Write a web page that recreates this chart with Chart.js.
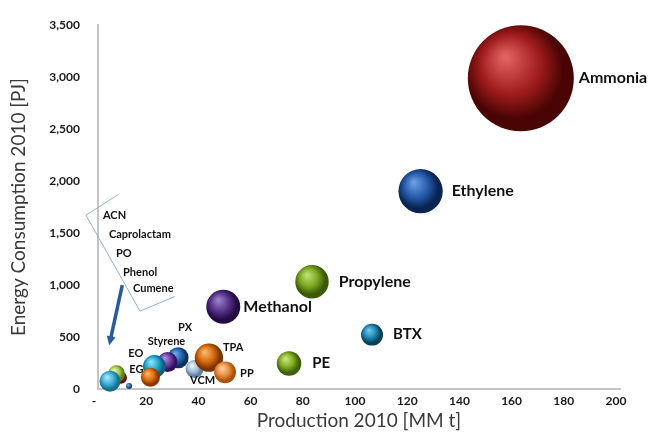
<!DOCTYPE html>
<html><head><meta charset="utf-8">
<script src="https://cdn.jsdelivr.net/npm/chart.js@4.4.1/dist/chart.umd.min.js"></script>
<style>html,body{margin:0;padding:0;background:#fff;}#wrap{width:654px;height:432px;position:relative;}</style>
</head><body><div id="wrap"><canvas id="c"></canvas></div>
<script>
// ---- data ----
const products   = ['Ammonia','Ethylene','Propylene','Methanol','BTX','PE','VCM','TPA','PP','PX','Styrene','EO','EG','Caprolactam','Phenol','Cumene','ACN'];
const production = [162, 123.6, 82, 48, 105, 73.2, 37, 42.5, 48.7, 30.7, 26.6, 21.6, 20.1, 8.8, 7.1, 4.6, 11.9];   // MM t
const energy     = [2990, 1903, 1032, 791, 523, 245, 193, 301, 160, 301, 259, 217, 113, 108, 146, 75, 28];         // PJ
const bubbleSize = [281, 49, 28, 29, 12, 15, 8, 20, 12, 11, 10, 13, 9, 3.6, 7.2, 11, 0.9];                          // relative size
const xTicks = [0, 20, 40, 60, 80, 100, 120, 140, 160, 180, 200];
const yTicks = [0, 500, 1000, 1500, 2000, 2500, 3000, 3500];
const groupedNames = ['ACN','Caprolactam','PO','Phenol','Cumene'];

// ---- styles ----
const palette = { // [highlight, base, rim]
  Ammonia:['#e06060','#a01c1c','#4a0404'], Ethylene:['#6a9ee0','#2358a8','#0a2350'],
  Propylene:['#bfe070','#7aa420','#3a5806'], Methanol:['#9a80c8','#553088','#220c40'],
  BTX:['#70c8e8','#1f88b0','#08405a'], PE:['#c8e878','#80ac26','#3e6008'],
  VCM:['#f0f6fc','#a8c0dc','#6080a8'], TPA:['#f8b870','#d86a10','#7a3400'],
  PP:['#fcd0a8','#ec8e40','#a85410'], PX:['#70a8e8','#2468b0','#0a3060'],
  Styrene:['#b090e0','#6c40a0','#301060'], EO:['#90e4f8','#28a8d0','#0a6080'],
  EG:['#f8b868','#e07010','#8a3800'], Caprolactam:['#e07070','#a82a2a','#581010'],
  Phenol:['#e0f8a8','#a0c848','#5a8010'], Cumene:['#a8e8fa','#40b0d8','#157090'],
  ACN:['#80a8e0','#3a6ab0','#1a3a70']
};
const bigLabels = { // label placed to the right of bubble
  Ammonia:{dx:5,dy:0,size:16}, Ethylene:{dx:9,dy:0,size:16}, Propylene:{dx:10,dy:0,size:16},
  Methanol:{dx:3,dy:0,size:16}, BTX:{dx:10,dy:0,size:15}, PE:{dx:11,dy:0,size:15}
};
const smallLabels = { // offsets from bubble centre
  TPA:{dx:14,dy:-10,align:'left'}, PP:{dx:15,dy:1,align:'left'}, VCM:{dx:8,dy:12,align:'center'},
  PX:{dx:7,dy:-30,align:'center'}, Styrene:{dx:-1,dy:-21,align:'center'},
  EO:{dx:-11,dy:-13,align:'right'}, EG:{dx:-7,dy:-8,align:'right'}
};
const groupLabelPos = [[1.9,1672],[4.2,1484],[6.9,1305],[9.6,1126],[13.4,966]]; // data coords (left x, mid y)
const bracket = [[7.7,1870],[-4.6,1672],[16.1,749],[29.5,890]];
const arrow = [[9.3,1000],[4.3,420]];

const points = products.map((p,i)=>({x:production[i], y:energy[i], r:Math.sqrt(bubbleSize[i]*10), name:p}));

function ballFill(ctx){
  const raw = ctx.raw; if(!raw) return '#888';
  const c = palette[raw.name];
  const chart = ctx.chart; const xs = chart.scales.x, ys = chart.scales.y;
  if(!xs || !ys) return c[1];
  const x = xs.getPixelForValue(raw.x), y = ys.getPixelForValue(raw.y), r = raw.r;
  if(!isFinite(x) || !isFinite(y) || !isFinite(r)) return c[1];
  const g = chart.ctx.createRadialGradient(x - r*0.3, y - r*0.4, r*0.05, x - r*0.1, y - r*0.12, r*1.08);
  g.addColorStop(0, c[0]); g.addColorStop(0.5, c[1]); g.addColorStop(0.85, c[2]); g.addColorStop(1, c[2]);
  return g;
}

const labelPlugin = {
  id:'labels',
  afterDatasetsDraw(chart){
    const ctx = chart.ctx, xs = chart.scales.x, ys = chart.scales.y;
    const meta = chart.getDatasetMeta(0);
    ctx.save();
    ctx.fillStyle = '#111';
    ctx.textBaseline = 'middle';
    meta.data.forEach((el,i)=>{
      const name = products[i];
      const r = points[i].r;
      if(bigLabels[name]){
        const L = bigLabels[name];
        ctx.font = 'bold '+L.size+'px Lato, "DejaVu Sans", sans-serif';
        ctx.textAlign = 'left';
        ctx.fillText(name, el.x + r + L.dx, el.y + L.dy);
      } else if(smallLabels[name]){
        const L = smallLabels[name];
        ctx.font = 'bold 11px Lato, "DejaVu Sans", sans-serif';
        ctx.textAlign = L.align;
        ctx.fillText(name, el.x + L.dx, el.y + L.dy);
      }
    });
    ctx.font = 'bold 11px Lato, "DejaVu Sans", sans-serif';
    ctx.textAlign = 'left';
    groupedNames.forEach((n,i)=>{
      ctx.fillText(n, xs.getPixelForValue(groupLabelPos[i][0]), ys.getPixelForValue(groupLabelPos[i][1]));
    });
    ctx.strokeStyle = '#8fb0d8'; ctx.lineWidth = 1;
    ctx.beginPath();
    bracket.forEach((p,i)=>{const X=xs.getPixelForValue(p[0]),Y=ys.getPixelForValue(p[1]); i?ctx.lineTo(X,Y):ctx.moveTo(X,Y);});
    ctx.stroke();
    const ax0 = xs.getPixelForValue(arrow[0][0]), ay0 = ys.getPixelForValue(arrow[0][1]);
    const ax1 = xs.getPixelForValue(arrow[1][0]), ay1 = ys.getPixelForValue(arrow[1][1]);
    const ang = Math.atan2(ay1-ay0, ax1-ax0);
    ctx.strokeStyle = '#2a5a9e'; ctx.fillStyle = '#2a5a9e'; ctx.lineWidth = 3.5;
    ctx.beginPath(); ctx.moveTo(ax0,ay0); ctx.lineTo(ax1 - 6*Math.cos(ang), ay1 - 6*Math.sin(ang)); ctx.stroke();
    ctx.beginPath();
    ctx.moveTo(ax1, ay1);
    ctx.lineTo(ax1 - 9*Math.cos(ang) + 4.5*Math.sin(ang), ay1 - 9*Math.sin(ang) - 4.5*Math.cos(ang));
    ctx.lineTo(ax1 - 9*Math.cos(ang) - 4.5*Math.sin(ang), ay1 - 9*Math.sin(ang) + 4.5*Math.cos(ang));
    ctx.closePath(); ctx.fill();
    ctx.restore();
  }
};

new Chart(document.getElementById('c'), {
  type:'bubble',
  data:{ datasets:[{ data:points, backgroundColor:ballFill, borderWidth:0, clip:false }] },
  options:{
    responsive:true, maintainAspectRatio:false, animation:false,
    layout:{autoPadding:false, padding:{top:18,right:34,left:0,bottom:0}},
    plugins:{legend:{display:false}, tooltip:{enabled:false}},
    scales:{
      x:{ type:'linear', min:0, max:200,
        afterBuildTicks(s){ s.ticks = xTicks.map(v=>({value:v})); },
        afterFit(s){ s.height = 43; },
        grid:{display:false, drawTicks:false},
        border:{display:true, color:'#c4c4c4', width:2},
        ticks:{ padding:5, labelOffset:-4, color:'#1a1a1a', font:{family:'Lato', weight:'bold', size:12},
          callback:v=> v===0 ? '-' : v },
        title:{display:true, text:'Production 2010 [MM t]', color:'#3a3a3a', font:{family:'Lato', size:19}, padding:{top:0,bottom:0}}
      },
      y:{ type:'linear', min:0, max:3500,
        afterBuildTicks(s){ s.ticks = yTicks.map(v=>({value:v})); },
        afterFit(s){ s.width = 98; },
        grid:{display:false, drawTicks:false},
        border:{display:true, color:'#c4c4c4', width:2},
        ticks:{ padding:18, color:'#1a1a1a', font:{family:'Lato', weight:'bold', size:12},
          callback:v=> v.toLocaleString('en-US') },
        title:{display:true, text:'Energy Consumption 2010 [PJ]', color:'#3a3a3a', font:{family:'Lato', size:19}, padding:{top:7,bottom:0}}
      }
    }
  },
  plugins:[labelPlugin]
});
</script></body></html>
